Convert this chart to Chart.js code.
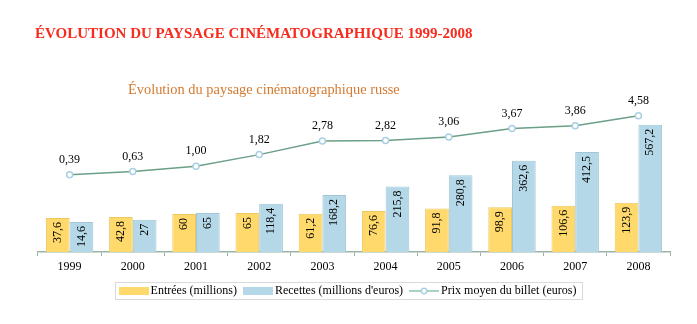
<!DOCTYPE html>
<html>
<head>
<meta charset="utf-8">
<script src="https://cdn.jsdelivr.net/npm/chart.js@4.4.1/dist/chart.umd.min.js"></script>
<style>
    body { margin: 0; background: #fff; }
    #wrap { position: relative; width: 697px; height: 324px; }
    #titre { position: absolute; left: 35px; top: 25px; font: bold 15px "Liberation Serif", serif; color: #f72c1e; white-space: nowrap; }
    #sousTitre { position: absolute; left: 128px; top: 81px; font: 14.4px "Liberation Serif", serif; color: #d47a30; white-space: nowrap; }
    canvas { position: absolute; left: 0; top: 0; }
</style>
</head>
<body>
<div id="wrap">
    <canvas id="myChart" width="697" height="324"></canvas>
    <div id="titre">ÉVOLUTION DU PAYSAGE CINÉMATOGRAPHIQUE 1999-2008</div>
    <div id="sousTitre">Évolution du paysage cinématographique russe</div>
</div>
<script>
const annees = ['1999', '2000', '2001', '2002', '2003', '2004', '2005', '2006', '2007', '2008'];
const entrees = [37.6, 42.8, 60, 65, 61.2, 76.6, 91.8, 98.9, 106.6, 123.9];
const recettes = [14.6, 27, 65, 118.4, 168.2, 215.8, 280.8, 362.6, 412.5, 567.2];
const prixBillet = [0.39, 0.63, 1.00, 1.82, 2.78, 2.82, 3.06, 3.67, 3.86, 4.58];

const jaune = '#ffd96b';
const bleu = '#b4d8e8';
const vert = '#6b9f88';
const police = '"Liberation Serif", serif';

// petites vignettes pour la légende
function vignette(type) {
    const c = document.createElement('canvas');
    c.width = 30;
    c.height = 8;
    const g = c.getContext('2d');
    if (type === 'ligne') {
        g.strokeStyle = '#8cc2aa';
        g.lineWidth = 1.5;
        g.beginPath();
        g.moveTo(0, 4);
        g.lineTo(30, 4);
        g.stroke();
        g.fillStyle = '#fff';
        g.strokeStyle = '#a9d0e3';
        g.beginPath();
        g.arc(15, 4, 2.7, 0, Math.PI * 2);
        g.fill();
        g.stroke();
    } else {
        g.fillStyle = type;
        g.fillRect(0, 0, 30, 8);
    }
    return c;
}

const etiquettes = {
    id: 'etiquettes',
    afterDatasetsDraw(chart) {
        const ctx = chart.ctx;
        ctx.save();
        ctx.fillStyle = '#000';
        ctx.font = '12px ' + police;
        chart.data.datasets.forEach(function (ds, i) {
            const meta = chart.getDatasetMeta(i);
            meta.data.forEach(function (el, j) {
                const v = ds.data[j];
                if (ds.type === 'line') {
                    ctx.textAlign = 'center';
                    ctx.textBaseline = 'middle';
                    ctx.fillText(v.toFixed(2).replace('.', ','), el.x, el.y - 15);
                } else {
                    ctx.save();
                    ctx.translate(el.x, el.y + 4);
                    ctx.rotate(-Math.PI / 2);
                    ctx.textAlign = 'right';
                    ctx.textBaseline = 'middle';
                    ctx.fillText(String(v).replace('.', ','), 0, 0);
                    ctx.restore();
                }
            });
        });
        ctx.restore();
    }
};

const cadreLegende = {
    id: 'cadreLegende',
    afterDraw(chart) {
        const boxes = chart.legend.legendHitBoxes;
        if (!boxes.length) return;
        let gauche = Infinity, droite = -Infinity, haut = Infinity, bas = -Infinity;
        boxes.forEach(function (b) {
            gauche = Math.min(gauche, b.left);
            droite = Math.max(droite, b.left + b.width);
            haut = Math.min(haut, b.top);
            bas = Math.max(bas, b.top + b.height);
        });
        const ctx = chart.ctx;
        ctx.save();
        ctx.strokeStyle = '#d9d9d9';
        ctx.lineWidth = 1;
        ctx.strokeRect(Math.round(gauche - 8) + 0.5, Math.round(haut - 3) + 0.5, Math.round(droite - gauche + 13), Math.round(bas - haut + 5));
        ctx.restore();
    }
};

const ctx = document.getElementById('myChart').getContext('2d');

new Chart(ctx, {
    type: 'bar',
    data: {
        labels: annees,
        datasets: [{
            label: 'Entrées (millions)',
            data: entrees,
            backgroundColor: jaune,
            borderColor: '#ecc85e',
            borderWidth: 1,
            base: -156,
            yAxisID: 'yBar',
            order: 1,
            categoryPercentage: 0.75,
            barPercentage: 1
        }, {
            label: "Recettes (millions d'euros)",
            data: recettes,
            backgroundColor: bleu,
            borderColor: '#a3c6d6',
            borderWidth: 1,
            base: -156,
            yAxisID: 'yBar',
            order: 1,
            categoryPercentage: 0.75,
            barPercentage: 1
        }, {
            type: 'line',
            label: 'Prix moyen du billet (euros)',
            data: prixBillet,
            borderColor: vert,
            borderWidth: 1.5,
            pointRadius: 3,
            pointBackgroundColor: '#fff',
            pointBorderColor: '#a9d0e3',
            pointBorderWidth: 1.5,
            tension: 0,
            yAxisID: 'yPrix',
            order: 0
        }]
    },
    options: {
        responsive: false,
        animation: false,
        layout: {
            padding: { top: 100, left: 29, right: 27, bottom: 17 }
        },
        scales: {
            x: {
                grid: { offset: true, drawOnChartArea: false, tickLength: 4, color: '#9ab3a5' },
                border: { color: '#9ab3a5', width: 1.5 },
                ticks: { color: '#000', font: { family: police, size: 12 }, padding: 4 },
                afterFit: function (s) { s.height = 23; }
            },
            yBar: {
                position: 'left',
                min: -156,
                max: 708,
                grid: { display: false },
                border: { display: false },
                ticks: { display: false },
                afterFit: function (s) { s.width = 9; }
            },
            yPrix: {
                display: false,
                min: -5.08,
                max: 5.69
            }
        },
        plugins: {
            tooltip: { enabled: false },
            legend: {
                position: 'bottom',
                labels: {
                    usePointStyle: true,
                    pointStyleWidth: 22,
                    color: '#000',
                    font: { family: police, size: 12 },
                    generateLabels: function (chart) {
                        const types = [jaune, bleu, 'ligne'];
                        return chart.data.datasets.map(function (ds, i) {
                            return { text: ds.label, datasetIndex: i, pointStyle: vignette(types[i]), lineWidth: 0, fontColor: '#000' };
                        });
                    }
                }
            }
        }
    },
    plugins: [etiquettes, cadreLegende]
});
</script>
</body>
</html>
